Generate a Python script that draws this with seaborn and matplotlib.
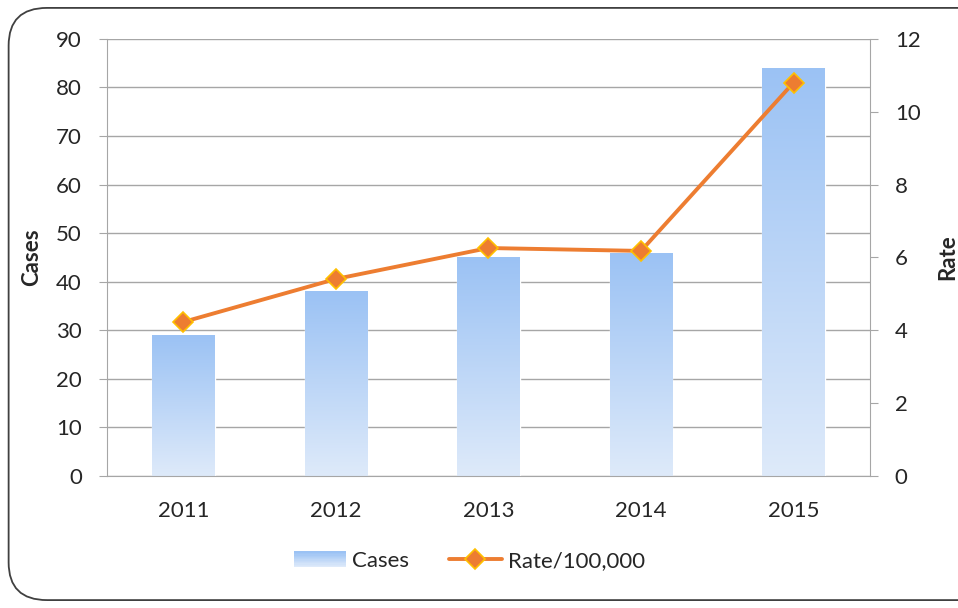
import numpy as np
import pandas as pd
import matplotlib
matplotlib.use('Agg')
import matplotlib.pyplot as plt
import seaborn as sns
from matplotlib.patches import FancyBboxPatch, Rectangle
from matplotlib.lines import Line2D
from matplotlib.legend_handler import HandlerBase
from matplotlib.colors import LinearSegmentedColormap

# chart values
years = ['2011', '2012', '2013', '2014', '2015']
cases = [29, 38, 45, 46, 84]
rate = [4.23, 5.41, 6.26, 6.18, 10.8]

df = pd.DataFrame({'Year': years, 'Cases': cases, 'Rate': rate})

sns.set_style('white')
plt.rcParams['font.family'] = ['Lato', 'DejaVu Sans']

top_blue = '#9BC2F4'
bottom_blue = '#DEEAFA'
orange = '#ED7D31'
gold = '#FFC000'
grid_gray = '#A6A6A6'
fs = 16

fig = plt.figure(figsize=(9.58, 6.08), dpi=100)
ax = fig.add_axes([0.1117, 0.217, 0.7963, 0.719])

# bars first, then paint gradient inside each one (top dark -> bottom light)
sns.barplot(data=df, x='Year', y='Cases', color=top_blue, width=0.41,
            saturation=1, ax=ax, zorder=2)
grad = LinearSegmentedColormap.from_list('g', [bottom_blue, top_blue])
gimg = np.linspace(0, 1, 256).reshape(-1, 1)
for bar in ax.patches:
    x0, w, h = bar.get_x(), bar.get_width(), bar.get_height()
    im = ax.imshow(gimg, cmap=grad, aspect='auto', origin='lower',
                   extent=[x0, x0 + w, 0, h], zorder=2.1)
    im.set_clip_path(bar)

ax.set_xlim(-0.5, len(years) - 0.5)
ax.set_ylim(0, 90)
ax.set_yticks(range(0, 91, 10))
ax.tick_params(axis='y', labelsize=fs, length=6, color=grid_gray, pad=12)
ax.set_xticks(np.arange(len(years)))
ax.set_xticklabels(years)
ax.set_xticks(np.arange(-0.5, len(years), 1), minor=True)
ax.tick_params(axis='x', which='major', length=0, labelsize=fs, pad=18)
ax.tick_params(axis='x', which='minor', length=6, color=grid_gray)
ax.yaxis.grid(True, color=grid_gray, linewidth=1)
ax.set_axisbelow(True)
for s in ['left', 'bottom']:
    ax.spines[s].set_color(grid_gray)
ax.spines['top'].set_visible(False)
ax.spines['right'].set_visible(False)
ax.set_xlabel('')
ax.set_ylabel('Cases', fontsize=fs, fontweight='bold')
ax.yaxis.set_label_coords(-0.085, 0.5)

ax2 = ax.twinx()
sns.lineplot(x=np.arange(len(years)), y=df['Rate'], ax=ax2, color=orange,
             linewidth=2.8, marker='D', markersize=10, markerfacecolor=orange,
             markeredgecolor=gold, markeredgewidth=1.2, zorder=3)
ax2.set_ylim(0, 12)
ax2.set_yticks(range(0, 13, 2))
ax2.tick_params(axis='y', labelsize=fs, length=6, color=grid_gray, pad=12)
ax2.spines['right'].set_color(grid_gray)
for s in ['top', 'left', 'bottom']:
    ax2.spines[s].set_visible(False)
ax2.set_ylabel('Rate', fontsize=fs, fontweight='bold')
ax2.yaxis.set_label_coords(1.088, 0.5)


class GradHandler(HandlerBase):
    def create_artists(self, legend, orig, xd, yd, width, height, fontsize, trans):
        arts = []
        n = 12
        cols = grad(np.linspace(0, 1, n))
        for i in range(n):
            r = Rectangle((xd, yd + height * i / n), width, height / n + 0.3,
                          facecolor=cols[i], edgecolor='none', transform=trans)
            arts.append(r)
        return arts


line_handle = Line2D([], [], color=orange, linewidth=2.8, marker='D',
                     markersize=10, markerfacecolor=orange,
                     markeredgecolor=gold, markeredgewidth=1.2)
fig.legend([Rectangle((0, 0), 1, 1), line_handle], ['Cases', 'Rate/100,000'],
           handler_map={Rectangle: GradHandler()},
           loc='center', bbox_to_anchor=(0.49, 0.077), ncol=2, frameon=False,
           fontsize=fs, handlelength=2.35, columnspacing=1.8, handletextpad=0.27)

border = FancyBboxPatch((0.009, 0.013), 1.2, 0.974,
                        boxstyle='round,pad=0,rounding_size=0.04',
                        transform=fig.transFigure, facecolor='none',
                        edgecolor='#404040', linewidth=1.3, mutation_aspect=1.55)
fig.patches.append(border)

fig.savefig('out.png', dpi=100)
